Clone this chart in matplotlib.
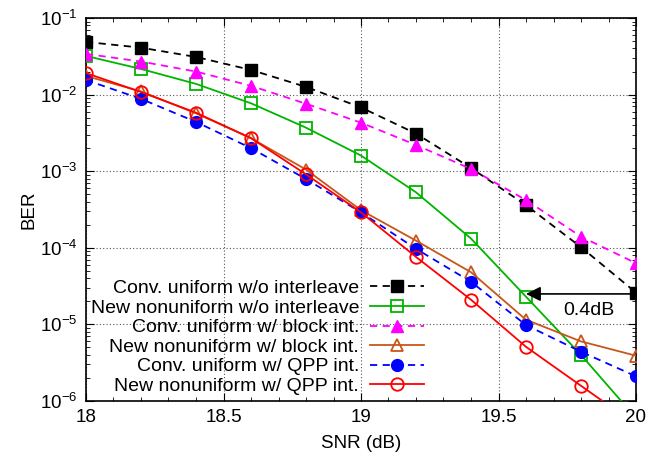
import matplotlib
matplotlib.use("Agg")
import matplotlib.pyplot as plt
from matplotlib.ticker import LogLocator, MultipleLocator, NullFormatter

plt.rcParams['font.family'] = ['Liberation Sans', 'DejaVu Sans']
plt.rcParams['mathtext.fontset'] = 'custom'
plt.rcParams['mathtext.rm'] = 'Liberation Sans'

snr = [18.0, 18.2, 18.4, 18.6, 18.8, 19.0, 19.2, 19.4, 19.6, 19.8, 20.0]

conv_wo = [0.0487, 0.041, 0.031, 0.021, 0.0126, 0.0068, 0.0031, 0.0011, 3.6e-4, 1.02e-4, 2.6e-5]
new_wo = [0.032, 0.0216, 0.0138, 0.0077, 0.0037, 0.0016, 5.3e-4, 1.32e-4, 2.3e-5, 4.0e-6, 6.0e-7]
conv_block = [0.034, 0.027, 0.020, 0.0130, 0.0076, 0.0043, 0.0022, 0.00107, 4.2e-4, 1.4e-4, 6.3e-5]
new_block = [0.0175, 0.011, 0.0057, 0.0027, 0.00105, 3.1e-4, 1.24e-4, 4.8e-5, 1.15e-5, 6.0e-6, 3.9e-6]
conv_qpp = [0.0155, 0.0088, 0.0044, 0.0020, 7.9e-4, 2.9e-4, 9.7e-5, 3.6e-5, 9.8e-6, 4.4e-6, 2.1e-6]
new_qpp = [0.0191, 0.0108, 0.0058, 0.0027, 9.1e-4, 2.9e-4, 7.6e-5, 2.1e-5, 5.1e-6, 1.58e-6, 4.9e-7]

labels = ["Conv. uniform w/o interleave",
          "New nonuniform w/o interleave",
          "Conv. uniform w/ block int.",
          "New nonuniform w/ block int.",
          "Conv. uniform w/ QPP int.",
          "New nonuniform w/ QPP int."]

arrow_y = 2.5e-5
arrow_from = 20.0
arrow_to = 19.6
arrow_text = "0.4dB"

fig = plt.figure(figsize=(6.49, 4.62), dpi=100)
ax = fig.add_axes([86/649, 1 - 401/462, (636-86)/649, (401-18)/462])

ms = 8.5
mew = 1.3
lw = 1.3
ax.plot(snr, conv_wo, color='black', ls=(0, (4, 3)), lw=lw, marker='s', ms=ms,
        mfc='black', mec='black', label=labels[0], zorder=3)
ax.plot(snr, new_wo, color='#00b400', ls='-', lw=lw, marker='s', ms=ms + 0.5,
        mfc='none', mec='#00b400', mew=mew, label=labels[1], zorder=3)
ax.plot(snr, conv_block, color='#ff00ff', ls=(0, (4, 3)), lw=lw, marker='^', ms=ms,
        mfc='#ff00ff', mec='#ff00ff', label=labels[2], zorder=3)
ax.plot(snr, new_block, color='#c8561a', ls='-', lw=lw, marker='^', ms=ms + 0.5,
        mfc='none', mec='#c8561a', mew=mew, label=labels[3], zorder=3)
ax.plot(snr, conv_qpp, color='#0000ff', ls=(0, (4, 3)), lw=lw, marker='o', ms=ms,
        mfc='#0000ff', mec='#0000ff', label=labels[4], zorder=3)
ax.plot(snr, new_qpp, color='#ff0000', ls='-', lw=lw, marker='o', ms=ms + 0.5,
        mfc='none', mec='#ff0000', mew=mew, label=labels[5], zorder=3)

ax.set_yscale('log')
ax.set_xlim(18, 20)
ax.set_ylim(1e-6, 1e-1)
ax.xaxis.set_major_locator(MultipleLocator(0.5))
ax.xaxis.set_minor_locator(MultipleLocator(0.1))
ax.xaxis.set_major_formatter(matplotlib.ticker.FuncFormatter(lambda v, p: f"{v:g}"))
ax.yaxis.set_major_locator(LogLocator(base=10, numticks=10))
ax.yaxis.set_minor_locator(LogLocator(base=10, subs=range(2, 10), numticks=100))
ax.yaxis.set_minor_formatter(NullFormatter())

ax.tick_params(which='both', direction='in', top=True, right=True, labelsize=13.5, pad=6)
ax.tick_params(which='major', length=6, width=0.8)
ax.tick_params(which='minor', length=3, width=0.6)
ax.grid(True, which='major', color='#555555', ls=(0, (1, 2)), lw=0.8)
for s in ax.spines.values():
    s.set_linewidth(1.2)

ax.set_xlabel('SNR (dB)', fontsize=13.5, labelpad=6)
ax.set_ylabel('BER', fontsize=13.5, labelpad=2)

ax.annotate('', xy=(arrow_to, arrow_y), xytext=(arrow_from, arrow_y),
            arrowprops=dict(arrowstyle='-|>', color='black', lw=1.2,
                            mutation_scale=22, shrinkA=0, shrinkB=0), zorder=4)
ax.text(19.83, 1.5e-5, arrow_text, fontsize=14, ha='center', va='center')

leg = ax.legend(loc='lower left', bbox_to_anchor=(-0.02, -0.025), frameon=False,
                markerfirst=False, fontsize=14, handlelength=2.8,
                handletextpad=0.55, labelspacing=0.1, borderpad=0.3)

fig.savefig('out.png', dpi=100)
